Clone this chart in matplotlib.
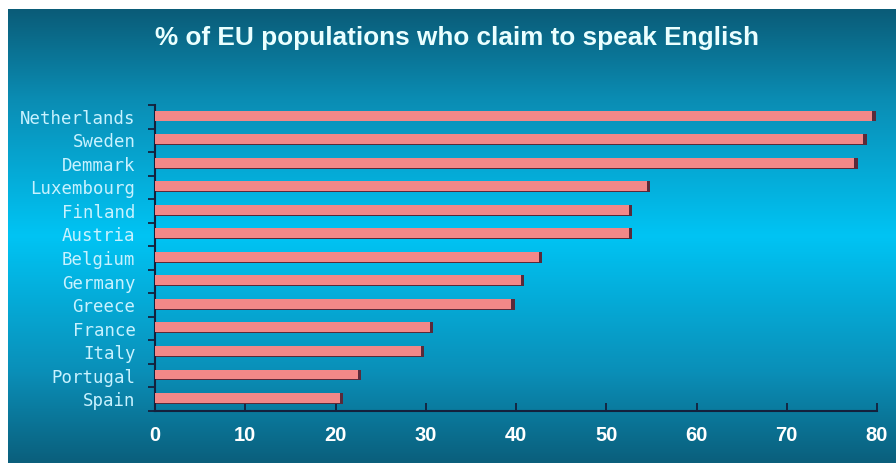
import numpy as np
import matplotlib.pyplot as plt
from matplotlib.colors import LinearSegmentedColormap

# data
countries = ['Netherlands', 'Sweden', 'Demmark', 'Luxembourg', 'Finland', 'Austria',
             'Belgium', 'Germany', 'Greece', 'France', 'Italy', 'Portugal', 'Spain']
percent = [79.5, 78.5, 77.5, 54.5, 52.5, 52.5, 42.5, 40.5, 39.5, 30.5, 29.5, 22.5, 20.5]
x_ticks = [0, 10, 20, 30, 40, 50, 60, 70, 80]

fig = plt.figure(figsize=(8.96, 4.63), dpi=100)
fig.patch.set_facecolor('white')

# gradient background (dark teal -> bright cyan -> dark teal)
bg = fig.add_axes([8 / 896, 0, 1 - 8 / 896, (463 - 9) / 463])
cmap = LinearSegmentedColormap.from_list('bg', [
    (0.0, '#0a5c78'), (0.2, '#0b8db4'), (0.5, '#00c4f4'),
    (0.8, '#0a8fb8'), (1.0, '#0b5f7c')])
grad = np.linspace(0, 1, 256).reshape(-1, 1)
bg.imshow(grad, aspect='auto', cmap=cmap, extent=[0, 1, 0, 1], origin='upper')
bg.set_axis_off()

ax = fig.add_axes([155 / 896, 52 / 463, (877 - 155) / 896, (411 - 105) / 463])
ax.patch.set_alpha(0)

ypos = np.arange(len(countries))[::-1]
vals = np.array(percent)
# dark end/shadow behind each bar, then the pink face
ax.barh(ypos + 0.03, vals + 0.35, height=0.46, color='#5a2a3a', zorder=2)
ax.barh(ypos + 0.05, vals, height=0.42, color='#f28888', zorder=3)

ax.set_xlim(0, 80)
ax.set_ylim(-0.5, len(countries) - 0.5)

for s in ['top', 'right']:
    ax.spines[s].set_visible(False)
for s in ['left', 'bottom']:
    ax.spines[s].set_color('#14203c')
    ax.spines[s].set_linewidth(1.5)

ax.set_xticks(x_ticks)
ax.set_xticklabels([str(t) for t in x_ticks], fontsize=14.5, fontweight='bold',
                   color='white', family=['Liberation Sans', 'DejaVu Sans'])
ax.tick_params(axis='x', direction='in', length=6, width=1.3, color='#14203c', pad=11)

ax.set_yticks(ypos)
ax.set_yticklabels(countries, fontsize=12.5, color='#c8f2ff', family=['DejaVu Sans Mono'])
ax.tick_params(axis='y', which='major', length=0, pad=14)
ax.set_yticks(np.arange(len(countries) + 1) - 0.5, minor=True)
ax.tick_params(axis='y', which='minor', direction='out', length=5, width=1.3, color='#14203c')

fig.text(0.51, 0.918, '% of EU populations who claim to speak English', ha='center', va='center',
         fontsize=18.8, fontweight='bold', color='#eaffff',
         family=['Liberation Sans', 'DejaVu Sans'])

fig.savefig('out.png', dpi=100)
